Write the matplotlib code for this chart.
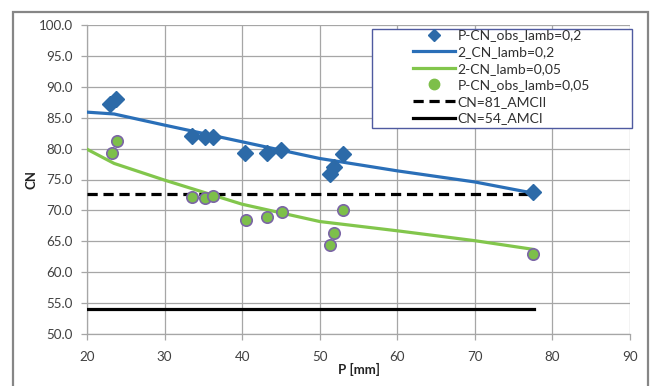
import matplotlib
matplotlib.use("Agg")
import matplotlib.pyplot as plt
from matplotlib.patches import Rectangle
from matplotlib.lines import Line2D

plt.rcParams['font.family'] = ['Lato', 'DejaVu Sans']

# Observed points
p_obs = [23.0, 23.7, 33.5, 35.2, 36.2, 40.4, 43.2, 45.0, 51.3, 51.9, 53.0, 77.5]
cn_obs_02 = [87.2, 88.0, 82.0, 81.8, 81.9, 79.3, 79.3, 79.7, 75.9, 77.0, 79.1, 72.9]
p_obs_005 = [23.2, 23.9, 33.6, 35.2, 36.3, 40.5, 43.2, 45.1, 51.3, 51.9, 53.0, 77.5]
cn_obs_005 = [79.3, 81.3, 72.1, 72.0, 72.3, 68.4, 68.9, 69.8, 64.4, 66.4, 70.1, 62.9]

# Model curves
p_model = [20, 23.5, 30, 40, 50, 60, 70, 77.5]
cn_model_02 = [85.9, 85.6, 83.8, 81.1, 78.4, 76.4, 74.6, 72.8]
cn_model_005 = [79.9, 77.6, 74.9, 71.0, 68.2, 66.7, 65.1, 63.7]

# Reference lines
p_ref = [20, 77.6]
cn_amcii = [72.6, 72.6]
cn_amci = [54.0, 54.0]

xticks = [20, 30, 40, 50, 60, 70, 80, 90]
yticks = [50, 55, 60, 65, 70, 75, 80, 85, 90, 95, 100]

W, H = 652, 386
fig = plt.figure(figsize=(W/100, H/100), dpi=100)
ax = fig.add_axes([87/W, 1-334/H, (630-87)/W, (334-25)/H])

# outer border
fig.patches.append(Rectangle((13/W, -0.05), (648-13)/W, (1-12/H)+0.05,
                             transform=fig.transFigure, fill=False,
                             edgecolor='#868686', linewidth=1.6))

blue = '#2a6fb8'
blue_m = '#2c6aa8'
green = '#82c64c'
green_f = '#7dbf4a'

ax.plot(p_model, cn_model_02, color=blue, lw=2.3, zorder=3)
ax.plot(p_model, cn_model_005, color=green, lw=2.3, zorder=3)
ax.plot(p_ref, cn_amcii, color='black', lw=2.3, ls=(0, (3.2, 1.8)), zorder=3)
ax.plot(p_ref, cn_amci, color='black', lw=2.3, zorder=3)
ax.plot(p_obs, cn_obs_02, ls='none', marker='D', ms=8.0, color=blue_m, mec=blue_m, zorder=4)
ax.plot(p_obs_005, cn_obs_005, ls='none', marker='o', ms=8.2, color=green_f,
        mec='#7b65a6', mew=1.2, zorder=4)

ax.set_xlim(20, 90)
ax.set_ylim(50, 100)
ax.set_xticks(xticks)
ax.set_yticks(yticks)
ax.set_yticklabels([f"{v:.1f}" for v in yticks])
ax.grid(True, color='#a6a6a6', lw=0.9)
ax.set_axisbelow(True)
for s in ['top', 'right']:
    ax.spines[s].set_visible(False)
for s in ['left', 'bottom']:
    ax.spines[s].set_color('#a6a6a6')
    ax.spines[s].set_linewidth(0.9)
ax.tick_params(axis='both', colors='#a6a6a6', labelcolor='#404040',
               labelsize=9.6, length=4.5, width=0.9)
ax.tick_params(axis='y', pad=5.5)
ax.tick_params(axis='x', pad=8)

ax.set_xlabel('P [mm]', fontsize=9.5, fontweight='bold', color='#222222', labelpad=0)
ax.set_ylabel('CN', fontsize=9.5, fontweight='bold', color='#222222', labelpad=1)

# legend
handles = [
    Line2D([], [], ls='none', marker='D', ms=6.0, color=blue_m),
    Line2D([], [], color=blue, lw=2.3),
    Line2D([], [], color=green, lw=2.3),
    Line2D([], [], ls='none', marker='o', ms=7.5, color=green_f),
    Line2D([], [], color='black', lw=2.3, ls=(0, (3.2, 1.8))),
    Line2D([], [], color='black', lw=2.3),
]
labels = ['P-CN_obs_lamb=0,2', '2_CN_lamb=0,2', '2-CN_lamb=0,05',
          'P-CN_obs_lamb=0,05', 'CN=81_AMCII', 'CN=54_AMCI']
lx0 = (413-87)/543
ly_top = (334-29.5)/309
leg = ax.legend(handles, labels, loc='upper left', bbox_to_anchor=(lx0, ly_top),
                frameon=False, fontsize=10, handlelength=3.0, handletextpad=0.2,
                labelspacing=0.33, borderpad=0, borderaxespad=0)
for t in leg.get_texts():
    t.set_color('#303030')
ax.add_patch(Rectangle(((371.7-87)/543, (334-128.3)/309), (632.3-371.7)/543,
                       (128.3-29.3)/309, transform=ax.transAxes, fill=True,
                       facecolor='white', edgecolor='#4f5aa0', lw=1.0, zorder=5,
                       clip_on=False))
leg.set_zorder(6)

fig.savefig('out.png', dpi=100)
